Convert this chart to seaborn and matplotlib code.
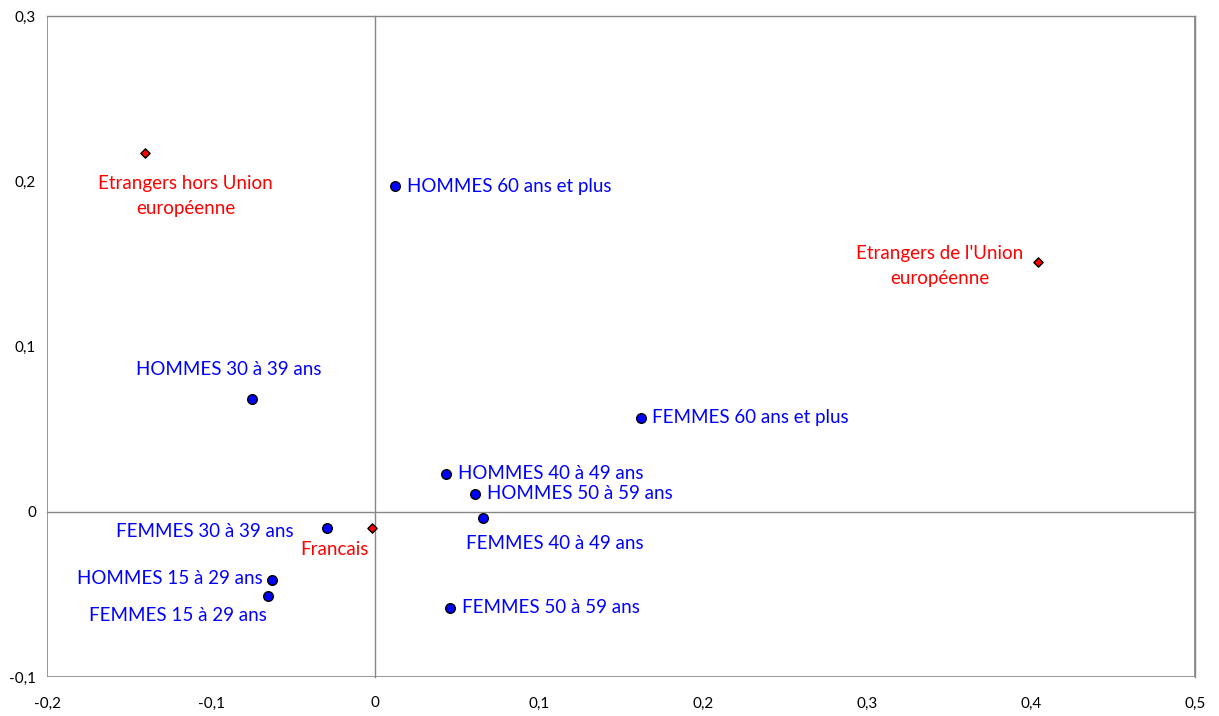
import pandas as pd
import matplotlib.pyplot as plt
import seaborn as sns

sns.set_style('white')
plt.rcParams['font.family'] = ['Lato', 'DejaVu Sans']

# -------------------------------------------
# Data
# -------------------------------------------
age_sex = ['HOMMES 60 ans et plus', 'HOMMES 30 à 39 ans', 'FEMMES 60 ans et plus',
           'HOMMES 40 à 49 ans', 'HOMMES 50 à 59 ans', 'FEMMES 40 à 49 ans',
           'FEMMES 30 à 39 ans', 'HOMMES 15 à 29 ans', 'FEMMES 15 à 29 ans',
           'FEMMES 50 à 59 ans']
age_x = [0.012, -0.075, 0.162, 0.043, 0.061, 0.066, -0.029, -0.063, -0.065, 0.046]
age_y = [0.197, 0.068, 0.057, 0.023, 0.011, -0.004, -0.010, -0.041, -0.051, -0.058]

nationality = ['Etrangers hors Union\neuropéenne', "Etrangers de l'Union\neuropéenne", 'Francais']
nat_x = [-0.140, 0.404, -0.002]
nat_y = [0.217, 0.151, -0.010]

# label offsets (pixels) and alignment
age_offsets = [(12, 0, 'left'), (-23, 30, 'center'), (11, 0, 'left'), (12, 0, 'left'),
               (12, 0, 'left'), (72, -25, 'center'), (-34, -3, 'right'), (-9, 1, 'right'),
               (-90, -19, 'center'), (12, 0, 'left')]
nat_offsets = [(40, -43, 'center'), (-98, -4, 'center'), (-37, -21, 'center')]

df_age = pd.DataFrame({'label': age_sex, 'x': age_x, 'y': age_y})
df_nat = pd.DataFrame({'label': nationality, 'x': nat_x, 'y': nat_y})

grey = '#868686'
fig = plt.figure(figsize=(12.19, 7.16), dpi=100)
pos = [47 / 1219, 39 / 716, 1148 / 1219, 661 / 716]
ax = fig.add_axes(pos)

sns.scatterplot(data=df_age, x='x', y='y', ax=ax, color='#0000FF', marker='o',
                s=48, edgecolor='black', linewidth=1, zorder=5)
sns.scatterplot(data=df_nat, x='x', y='y', ax=ax, color='#FF0000', marker='D',
                s=22, edgecolor='black', linewidth=1, zorder=5)

for (_, r), (dx, dy, ha) in zip(df_age.iterrows(), age_offsets):
    ax.annotate(r['label'], (r['x'], r['y']), xytext=(dx, dy), textcoords='offset pixels',
                ha=ha, va='center', color='#0000FF', fontsize=13.5)
for (_, r), (dx, dy, ha) in zip(df_nat.iterrows(), nat_offsets):
    ax.annotate(r['label'], (r['x'], r['y']), xytext=(dx, dy), textcoords='offset pixels',
                ha=ha, va='center', color='#FF0000', fontsize=13.5, linespacing=1.55,
                multialignment='center')

ax.set_xlim(-0.2, 0.5)
ax.set_ylim(-0.1, 0.3)
ax.set_xticks([-0.2, -0.1, 0, 0.1, 0.2, 0.3, 0.4, 0.5])
ax.set_yticks([-0.1, 0, 0.1, 0.2, 0.3])

# axes crossing at zero, Excel style
ax.spines['left'].set_position(('data', 0))
ax.spines['bottom'].set_position(('data', 0))
for s in ax.spines.values():
    s.set_color(grey)
    s.set_linewidth(1)
ax.tick_params(direction='out', length=5, color=grey, labelleft=False, labelbottom=False)
ax.add_patch(plt.Rectangle((0, 0), 1, 1, transform=ax.transAxes, fill=False,
                           edgecolor=grey, linewidth=1.2, zorder=1))
ax.set_xlabel('')
ax.set_ylabel('')

# tick labels on the outer edges
ax2 = fig.add_axes(pos, frameon=False)
ax2.set_xlim(-0.2, 0.5)
ax2.set_ylim(-0.1, 0.3)
ax2.set_xticks(ax.get_xticks())
ax2.set_yticks(ax.get_yticks())
ax2.set_xticklabels(['-0,2', '-0,1', '0', '0,1', '0,2', '0,3', '0,4', '0,5'])
ax2.set_yticklabels(['-0,1', '0', '0,1', '0,2', '0,3'])
ax2.tick_params(length=0, labelsize=11, pad=14, colors='black')
ax2.tick_params(axis='y', pad=8)
ax2.patch.set_alpha(0)

plt.savefig('out.png', dpi=100)
